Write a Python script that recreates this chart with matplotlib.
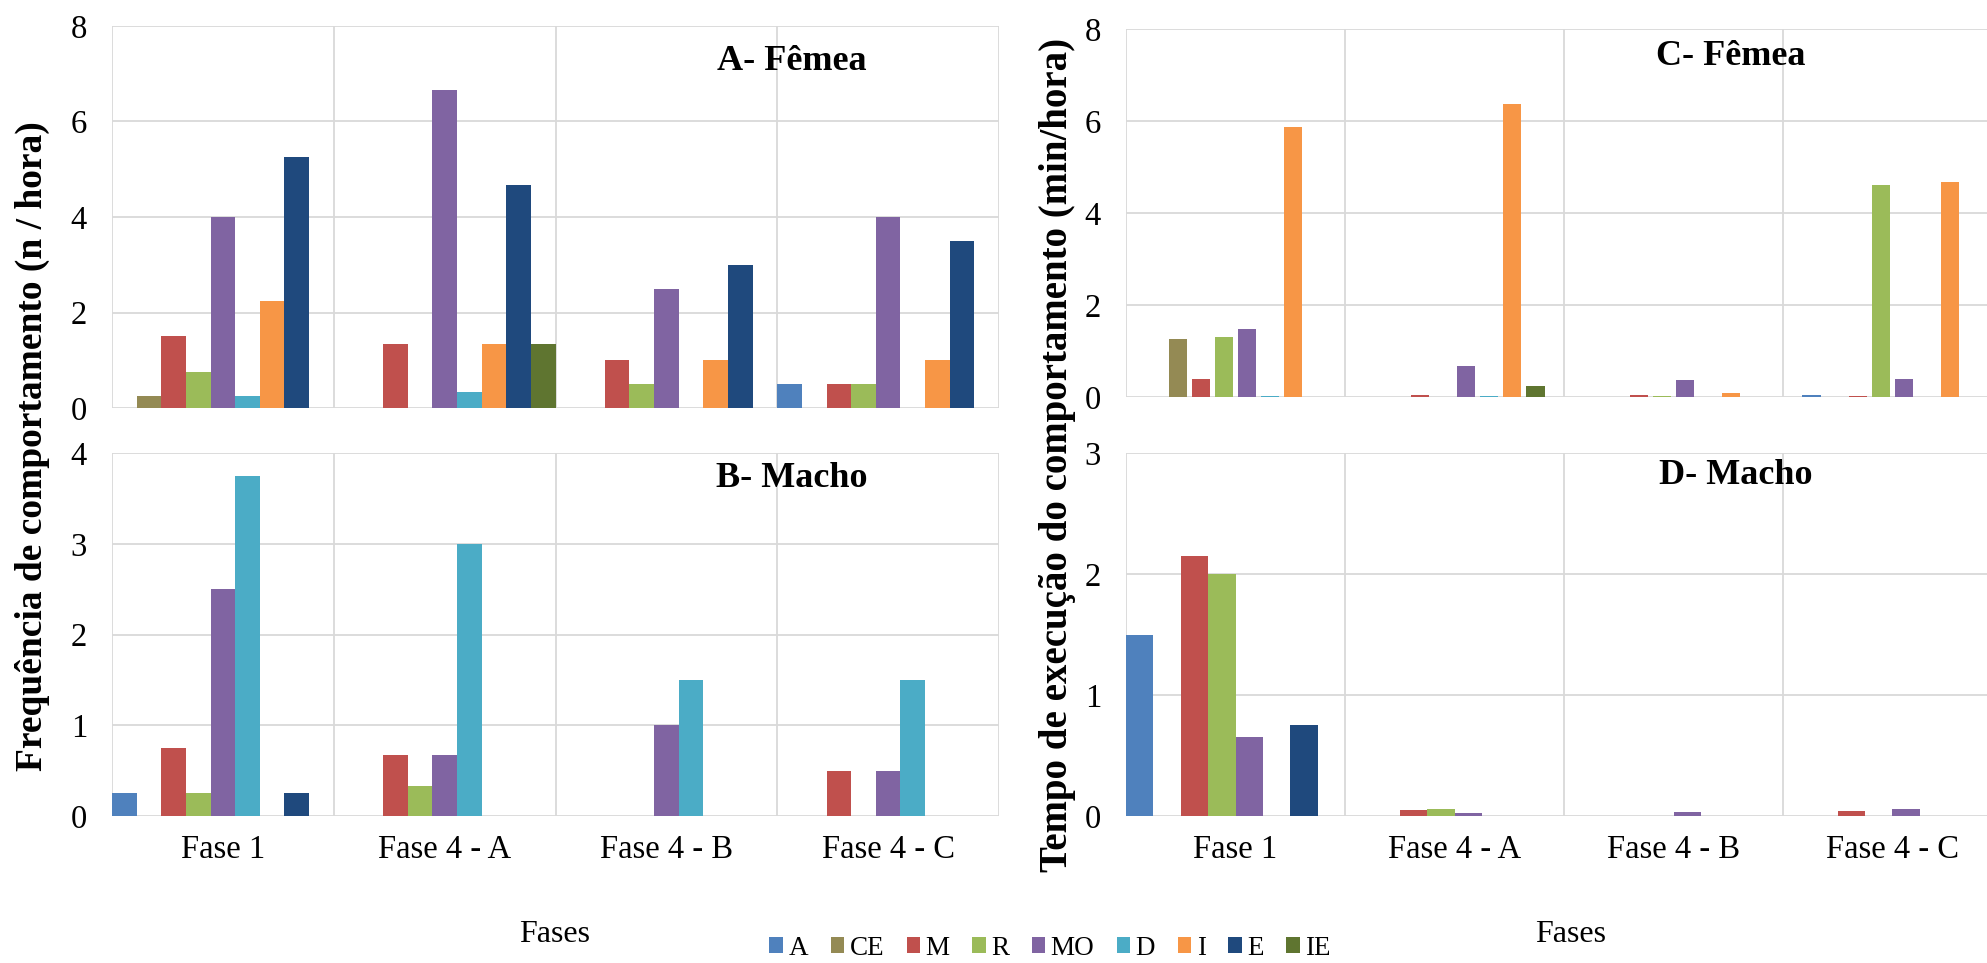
import matplotlib
matplotlib.use('Agg')
import numpy as np
import matplotlib.pyplot as plt
from matplotlib.patches import Patch

plt.rcParams['font.family'] = ['Liberation Serif', 'DejaVu Serif']

fases = ['Fase 1', 'Fase 4 - A', 'Fase 4 - B', 'Fase 4 - C']
comportamentos = ['A', 'CE', 'M', 'R', 'MO', 'D', 'I', 'E', 'IE']
cores = {'A': '#4F81BD', 'CE': '#948A54', 'M': '#C0504D', 'R': '#9BBB59', 'MO': '#8064A2',
         'D': '#4BACC6', 'I': '#F79646', 'E': '#1F497D', 'IE': '#5F7530'}

# A- Femea, frequencia (n / hora)
freq_femea = {
    'A': [0, 0, 0, 0.5],
    'CE': [0.25, 0, 0, 0],
    'M': [1.5, 1.33, 1.0, 0.5],
    'R': [0.75, 0, 0.5, 0.5],
    'MO': [4.0, 6.67, 2.5, 4.0],
    'D': [0.25, 0.33, 0, 0],
    'I': [2.25, 1.33, 1.0, 1.0],
    'E': [5.25, 4.67, 3.0, 3.5],
    'IE': [0, 1.33, 0, 0],
}

# B- Macho, frequencia (n / hora)
freq_macho = {
    'A': [0.25, 0, 0, 0],
    'CE': [0, 0, 0, 0],
    'M': [0.75, 0.67, 0, 0.5],
    'R': [0.25, 0.33, 0, 0],
    'MO': [2.5, 0.67, 1.0, 0.5],
    'D': [3.75, 3.0, 1.5, 1.5],
    'I': [0, 0, 0, 0],
    'E': [0.25, 0, 0, 0],
    'IE': [0, 0, 0, 0],
}

# C- Femea, tempo (min/hora) - sem serie E
tempo_femea = {
    'A': [0, 0, 0, 0.04],
    'CE': [1.25, 0, 0, 0],
    'M': [0.4, 0.05, 0.04, 0.02],
    'R': [1.3, 0, 0.03, 4.6],
    'MO': [1.47, 0.67, 0.38, 0.39],
    'D': [0.02, 0.02, 0, 0],
    'I': [5.87, 6.37, 0.08, 4.67],
    'IE': [0, 0.23, 0, 0],
}

# D- Macho, tempo (min/hora) - sem serie I
tempo_macho = {
    'A': [1.5, 0, 0, 0],
    'CE': [0, 0, 0, 0],
    'M': [2.15, 0.05, 0, 0.04],
    'R': [2.0, 0.06, 0, 0],
    'MO': [0.65, 0.025, 0.03, 0.06],
    'D': [0, 0, 0, 0],
    'E': [0.75, 0, 0, 0],
    'IE': [0, 0, 0, 0],
}

W, H = 1987, 963
fig = plt.figure(figsize=(W / 100, H / 100), dpi=100)


def box(left, top, right, bottom):
    return [left / W, 1 - bottom / H, (right - left) / W, (bottom - top) / H]


def draw_panel(ax, dados, ymax, passo, slot, largura, titulo, tx, ty, mostra_x):
    n = len(dados)
    x = np.arange(len(fases))
    for k, nome in enumerate(dados):
        ax.bar(x + (k - (n - 1) / 2) * slot, dados[nome], largura,
               color=cores[nome], zorder=3)
    ax.set_xlim(-0.5, len(fases) - 0.5)
    ax.set_ylim(0, ymax)
    ax.set_yticks(np.arange(0, ymax + 0.01, passo))
    ax.yaxis.grid(True, color='#D9D9D9', linewidth=1.3, zorder=0)
    for b in np.arange(-0.5, len(fases), 1.0):
        ax.axvline(b, color='#D9D9D9', linewidth=1.3, zorder=0)
    for s in ax.spines.values():
        s.set_visible(False)
    ax.tick_params(axis='both', length=0, labelsize=23.5)
    ax.tick_params(axis='y', pad=18)
    ax.tick_params(axis='x', pad=13)
    ax.set_xticks(x)
    if mostra_x:
        ax.set_xticklabels(fases)
    else:
        ax.set_xticklabels([])
    ax.text(tx, ty, titulo, transform=ax.transAxes, ha='center', va='center',
            fontsize=26, fontweight='bold')


ax_a = fig.add_axes(box(112, 26, 999, 408))
ax_b = fig.add_axes(box(112, 453, 999, 816))
ax_c = fig.add_axes(box(1126, 29, 2002, 397))
ax_d = fig.add_axes(box(1126, 453, 2002, 816))

draw_panel(ax_a, freq_femea, 8, 2, 1 / 9, 1 / 9, 'A- Fêmea', 0.766, 0.906, False)
draw_panel(ax_b, freq_macho, 4, 1, 1 / 9, 1 / 9, 'B- Macho', 0.766, 0.929, True)
draw_panel(ax_c, tempo_femea, 8, 2, 0.1055, 0.0835, 'C- Fêmea', 0.69, 0.924, False)
draw_panel(ax_d, tempo_macho, 3, 1, 1 / 8, 1 / 8, 'D- Macho', 0.696, 0.939, True)

fig.text(32 / W, 1 - 446 / H, 'Frequência de comportamento (n / hora)', rotation=90,
         ha='center', va='center', fontsize=27, fontweight='bold')
fig.text(1057 / W, 1 - 455 / H, 'Tempo de execução do comportamento (min/hora)', rotation=90,
         ha='center', va='center', fontsize=28, fontweight='bold')

fig.text(555 / W, 1 - 934 / H, 'Fases', ha='center', va='center', fontsize=23)
fig.text(1571 / W, 1 - 934 / H, 'Fases', ha='center', va='center', fontsize=23)

handles = [Patch(facecolor=cores[c], label=c) for c in comportamentos]
fig.legend(handles=handles, loc='center', bbox_to_anchor=(1050 / W, 1 - 948 / H),
           ncol=len(comportamentos), frameon=False, fontsize=19.5, handlelength=0.5,
           handleheight=0.5, handletextpad=0.2, columnspacing=0.83, borderaxespad=0)

fig.savefig('out.png', dpi=100)
